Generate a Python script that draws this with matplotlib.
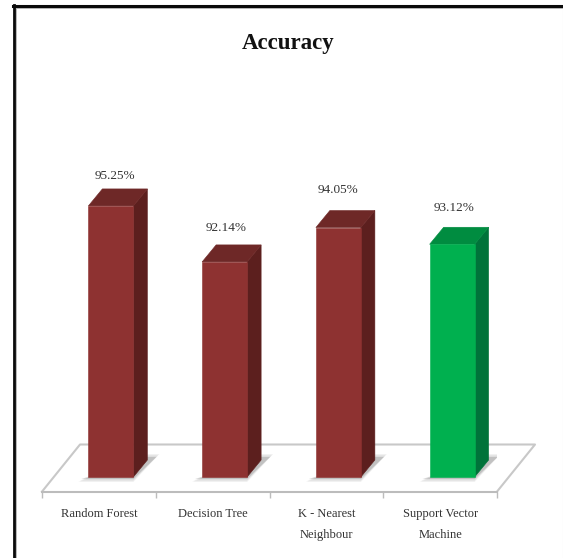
"""Accuracy of four classifiers, drawn as pseudo-3D columns on a floor."""
import matplotlib
matplotlib.use("Agg")
import matplotlib.pyplot as plt
from matplotlib.lines import Line2D
from matplotlib.patches import Polygon

models = ["Random Forest", "Decision Tree", "K - Nearest\nNeighbour", "Support Vector\nMachine"]
accuracy = [95.25, 92.14, 94.05, 93.12]
front_colors = ["#8e3231", "#8e3231", "#8e3231", "#00b04f"]
side_colors = ["#5c1f1e", "#5c1f1e", "#5c1f1e", "#00733a"]
top_colors = ["#6e2827", "#6e2827", "#6e2827", "#008c40"]
label_nudge = [(4, 13), (2, 17), (0, 21), (2, 19)]   # px from the back top edge

W, H = 563, 558
PX_X, PX_Y = 113.75, 18.0            # px per category, px per percent
BASE = 80.19
BAR_W = 45 / PX_X
BAR_SHIFT = 12 / PX_X
DX, DY = 14 / PX_X, 17 / PX_Y        # column depth in data units
FLOOR_FRONT, FLOOR_BACK = BASE - 14.6 / PX_Y, BASE + 32.5 / PX_Y
FLOOR_SHIFT = 38 / PX_X

plt.rcParams["font.family"] = ["Liberation Serif", "DejaVu Serif"]
fig = plt.figure(figsize=(W / 100, H / 100), dpi=100)

# plot box: 42..497 px across, bottom edge on the front of the floor
ax = fig.add_axes([42 / W, 1 - 491.6 / H, 455 / W, (491.6 - 117) / H])
ax.set_xlim(-0.5, 3.5)
ax.set_ylim(FLOOR_FRONT, FLOOR_FRONT + (491.6 - 117) / PX_Y)
ax.patch.set_visible(False)
for s in ["left", "right", "top"]:
    ax.spines[s].set_visible(False)
ax.spines["bottom"].set_color("#bcbcbc")
ax.spines["bottom"].set_linewidth(1.5)
ax.set_yticks([])
ax.set_xticks(range(len(models)), models, fontsize=9, color="#333333", linespacing=2.0)
ax.tick_params(axis="x", which="major", length=0, pad=12)
ax.set_xticks([-0.5, 0.5, 1.5, 2.5, 3.5], minor=True)
ax.tick_params(axis="x", which="minor", length=4, width=1, color="#bcbcbc")

# floor outline (front edge is the spine)
ax.plot([-0.5, -0.5 + FLOOR_SHIFT, 3.5 + FLOOR_SHIFT, 3.5],
        [FLOOR_FRONT, FLOOR_BACK, FLOOR_BACK, FLOOR_FRONT],
        color="#c8c8c8", lw=1.5, clip_on=False, zorder=1)

for i, (val, fc, sc, tc) in enumerate(zip(accuracy, front_colors, side_colors, top_colors)):
    l, r = i + BAR_SHIFT - BAR_W / 2, i + BAR_SHIFT + BAR_W / 2
    # soft shadow on the floor, layered to fade at the edges
    sx, sy = 2 / PX_X, 2 / PX_Y
    for grow, alpha in [(1.5, 0.10), (0.8, 0.16), (0.0, 0.28)]:
        gx, gy = grow * sx, grow * sy
        ax.add_patch(Polygon([(l - 7 / PX_X - gx, BASE - sy - gy), (r, BASE - sy - gy),
                              (r + 23 / PX_X + gx, BASE + 20 / PX_Y + gy),
                              (r + DX, BASE + 20 / PX_Y + gy)],
                             closed=True, fc="#7a7a7a", ec="none", alpha=alpha, zorder=2))
    ax.add_patch(Polygon([(r, BASE), (r + DX, BASE + DY), (r + DX, val + DY), (r, val)],
                         closed=True, fc=sc, ec=sc, lw=0.4, zorder=4))
    ax.add_patch(Polygon([(l, val), (r, val), (r + DX, val + DY), (l + DX, val + DY)],
                         closed=True, fc=tc, ec=tc, lw=0.4, zorder=4))
    ax.add_patch(Polygon([(l, BASE), (r, BASE), (r, val), (l, val)],
                         closed=True, fc=fc, ec=fc, lw=0.4, zorder=4))
    nx, ny = label_nudge[i]
    ax.annotate(f"{val:.2f}%", (i + BAR_SHIFT, val + DY), xytext=(nx * 0.72, ny * 0.72),
                textcoords="offset points", ha="center", va="center",
                fontsize=9.5, color="#333333", zorder=5)

fig.text(288.5 / W, 1 - 44 / H, "Accuracy", ha="center", va="center",
         fontsize=16.5, fontweight="bold", color="#111111")

# picture frame: heavy left and top rules with a grey inner edge, hairline at right
fig.add_artist(Line2D([16 / W, 16 / W], [0, 1 - 8 / H], color="#b8b8b8", lw=1.4))
fig.add_artist(Line2D([16 / W, 1], [1 - 8 / H, 1 - 8 / H], color="#b8b8b8", lw=1.4))
fig.add_artist(Line2D([13.5 / W, 13.5 / W], [0, 1 - 5 / H], color="#0a0a0a", lw=2.0))
fig.add_artist(Line2D([12.5 / W, 1], [1 - 5.5 / H, 1 - 5.5 / H], color="#0a0a0a", lw=2.2))
fig.add_artist(Line2D([562.5 / W, 562.5 / W], [0, 1 - 8 / H], color="#dddddd", lw=0.8))

fig.savefig("out.png", dpi=100)
